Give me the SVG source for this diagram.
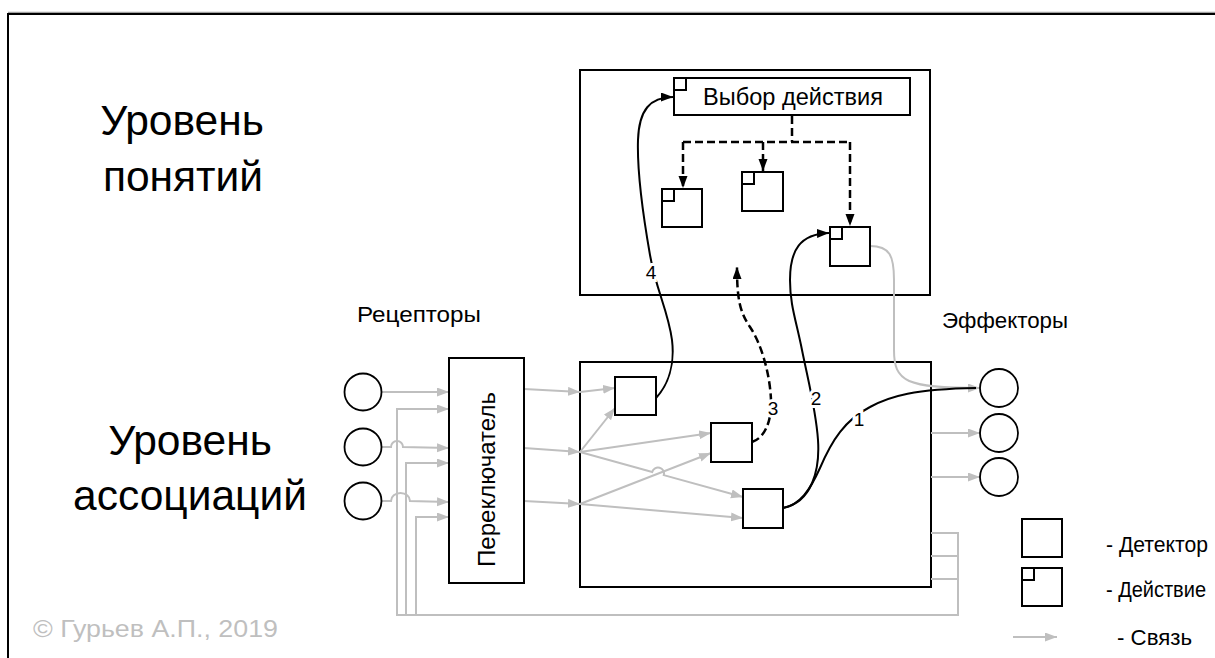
<svg xmlns="http://www.w3.org/2000/svg" width="1215" height="658" viewBox="0 0 1215 658">
<style>
.box{fill:#fff;stroke:#000;stroke-width:2}
.frame{fill:none;stroke:#000;stroke-width:2}
.g{fill:none;stroke:#bfbfbf;stroke-width:2}
.k{fill:none;stroke:#000;stroke-width:2}
.d{fill:none;stroke:#000;stroke-width:2.5;stroke-dasharray:8 4}
.t{font-family:"Liberation Sans",Arial,sans-serif;fill:#000}
.lbl{font-family:"Liberation Sans",Arial,sans-serif;font-size:19px;fill:#000;text-anchor:middle;stroke:#fff;stroke-width:6;paint-order:stroke}
.circ{fill:#fff;stroke:#000;stroke-width:1.8}
</style>
<defs>
<marker id="ag" markerUnits="userSpaceOnUse" markerWidth="13" markerHeight="10" refX="12" refY="4.5" orient="auto"><path d="M0,0 L12,4.5 L0,9 z" fill="#bfbfbf"/></marker>
<marker id="ak" markerUnits="userSpaceOnUse" markerWidth="13" markerHeight="10" refX="12" refY="4.5" orient="auto"><path d="M0,0 L12,4.5 L0,9 z" fill="#000"/></marker>
<linearGradient id="fade" gradientUnits="userSpaceOnUse" x1="935" y1="0" x2="978" y2="0"><stop offset="0" stop-color="#000"/><stop offset="1" stop-color="#bfbfbf"/></linearGradient>
</defs>
<rect width="1215" height="658" fill="#fff"/>
<g id="frame">
<line x1="8" y1="12.5" x2="1215" y2="12.5" stroke="#a0a0a0" stroke-width="1.5"/>
<path class="frame" d="M8,658 V14 H1215" stroke-width="2.5"/>
</g>

<g id="titles">
<text class="t" x="182" y="135" font-size="42.5" text-anchor="middle">Уровень</text>
<text class="t" x="183" y="191" font-size="42.5" text-anchor="middle">понятий</text>
<text class="t" x="190" y="455" font-size="42.5" text-anchor="middle">Уровень</text>
<text class="t" x="190" y="510" font-size="42.5" text-anchor="middle">ассоциаций</text>
<text class="t" x="357" y="322" font-size="22" textLength="124" lengthAdjust="spacingAndGlyphs">Рецепторы</text>
<text class="t" x="942" y="328" font-size="22" textLength="126" lengthAdjust="spacingAndGlyphs">Эффекторы</text>
</g>

<g id="concept-level"><rect class="box" x="580" y="70" width="350" height="225"/></g>
<g id="assoc-level"><rect class="box" x="580" y="362" width="351" height="225"/></g>

<g id="connectors">
<path class="g" marker-end="url(#ag)" d="M382,392 L449,392"/>
<path class="g" marker-end="url(#ag)" d="M382,447 H391 A6,6 0 0 1 403,447 L449,448"/>
<path class="g" marker-end="url(#ag)" d="M382,501 H391 A9.5,8 0 0 1 410,501 L449,502"/>
<path class="g" marker-end="url(#ag)" d="M931,533 H958 V615 H397 V409 H449"/>
<path class="g" marker-end="url(#ag)" d="M406,615 V463 H449"/>
<path class="g" marker-end="url(#ag)" d="M416,615 V517 H449"/>
<path class="g" d="M931,556 H958 M931,579 H958"/>
<path class="g" marker-end="url(#ag)" d="M524,389 L580,392"/>
<path class="g" marker-end="url(#ag)" d="M524,448 L580,452"/>
<path class="g" marker-end="url(#ag)" d="M524,501 L580,504"/>
<path class="g" marker-end="url(#ag)" d="M580,392 L615,388"/>
<path class="g" marker-end="url(#ag)" d="M580,452 L615,408"/>
<path class="g" marker-end="url(#ag)" d="M580,452 L711,433"/>
<path class="g" marker-end="url(#ag)" d="M580,452 L652.2,471.9 A6,6 0 0 1 663.8,475.1 L743,497"/>
<path class="g" marker-end="url(#ag)" d="M580,504 L711,453"/>
<path class="g" marker-end="url(#ag)" d="M580,504 L743,518"/>
<path class="g" marker-end="url(#ag)" d="M931,433 H980"/>
<path class="g" marker-end="url(#ag)" d="M931,477 H980"/>
<path class="g" marker-end="url(#ag)" d="M870,246 C890,246 894,256 894,280 L894,350 C894,382 906,388 980,388"/>
<path class="k" stroke="url(#fade)" d="M783,508 C800,505 810,490 820,468 C832,440 845,420 870,407 C890,396 915,389 976,388"/>
<path class="k" marker-end="url(#ak)" d="M783,508 C812,502 820,470 818,440 C816,410 808,380 802,350 C796,320 790,305 790,280 C790,250 800,234 829,233"/>
<path class="k" marker-end="url(#ak)" d="M656,398 C668,385 675,365 672,340 C668,310 656,290 650,255 C643,215 637,170 638,140 C639,110 650,97 673,97"/>
<path class="d" marker-end="url(#ak)" d="M752,442 C765,438 772,420 771,400 C770,375 762,345 750,327 C740,312 737,300 737,267"/>
<path class="d" d="M792,116 V142 M683,142 H850"/>
<path class="d" marker-end="url(#ak)" d="M683,142 V188"/>
<path class="d" marker-end="url(#ak)" d="M763,142 V171"/>
<path class="d" marker-end="url(#ak)" d="M850,142 V226"/>
<text class="lbl" x="859" y="426">1</text>
<text class="lbl" x="816" y="405">2</text>
<text class="lbl" x="773" y="415">3</text>
<text class="lbl" x="651" y="279">4</text>
</g>

<g id="action-select">
<rect class="box" x="674" y="78" width="236" height="37"/>
<rect class="box" x="674" y="78" width="12" height="12"/>
<text class="t" x="703" y="105" font-size="23" textLength="180" lengthAdjust="spacingAndGlyphs">Выбор действия</text>
</g>
<g id="action-1"><rect class="box" x="662" y="189" width="40" height="38"/><rect class="box" x="662" y="189" width="12" height="12"/></g>
<g id="action-2"><rect class="box" x="742" y="172" width="41" height="39"/><rect class="box" x="742" y="172" width="12" height="12"/></g>
<g id="action-3"><rect class="box" x="830" y="227" width="40" height="39"/><rect class="box" x="830" y="227" width="12" height="12"/></g>

<g id="detector-1"><rect class="box" x="615" y="377" width="41" height="38"/></g>
<g id="detector-2"><rect class="box" x="711" y="423" width="41" height="39"/></g>
<g id="detector-3"><rect class="box" x="743" y="489" width="40" height="39"/></g>

<g id="switch">
<rect class="box" x="449" y="358" width="75" height="225"/>
<text class="t" transform="translate(495,567) rotate(-90)" font-size="24" textLength="175" lengthAdjust="spacingAndGlyphs">Переключатель</text>
</g>

<g id="receptors">
<circle class="circ" cx="363" cy="392" r="18.5"/>
<circle class="circ" cx="363" cy="447" r="18.5"/>
<circle class="circ" cx="363" cy="501" r="18.5"/>
</g>
<g id="effectors">
<circle class="circ" cx="999" cy="388" r="19"/>
<circle class="circ" cx="999" cy="433" r="19"/>
<circle class="circ" cx="999" cy="477" r="19"/>
</g>

<g id="legend">
<rect class="box" x="1022" y="519" width="40" height="38"/>
<rect class="box" x="1022" y="568" width="40" height="38"/>
<rect class="box" x="1022" y="568" width="12" height="12"/>
<path class="g" marker-end="url(#ag)" d="M1013,637 H1057"/>
<text class="t" x="1106" y="552" font-size="22" textLength="102" lengthAdjust="spacingAndGlyphs">- Детектор</text>
<text class="t" x="1106" y="597" font-size="22" textLength="100" lengthAdjust="spacingAndGlyphs">- Действие</text>
<text class="t" x="1117" y="645" font-size="22" textLength="75" lengthAdjust="spacingAndGlyphs">- Связь</text>
</g>

<g id="copyright">
<text class="t" x="33" y="637" font-size="23" style="fill:#bfbfbf" textLength="245" lengthAdjust="spacingAndGlyphs">© Гурьев А.П., 2019</text>
</g>
</svg>
